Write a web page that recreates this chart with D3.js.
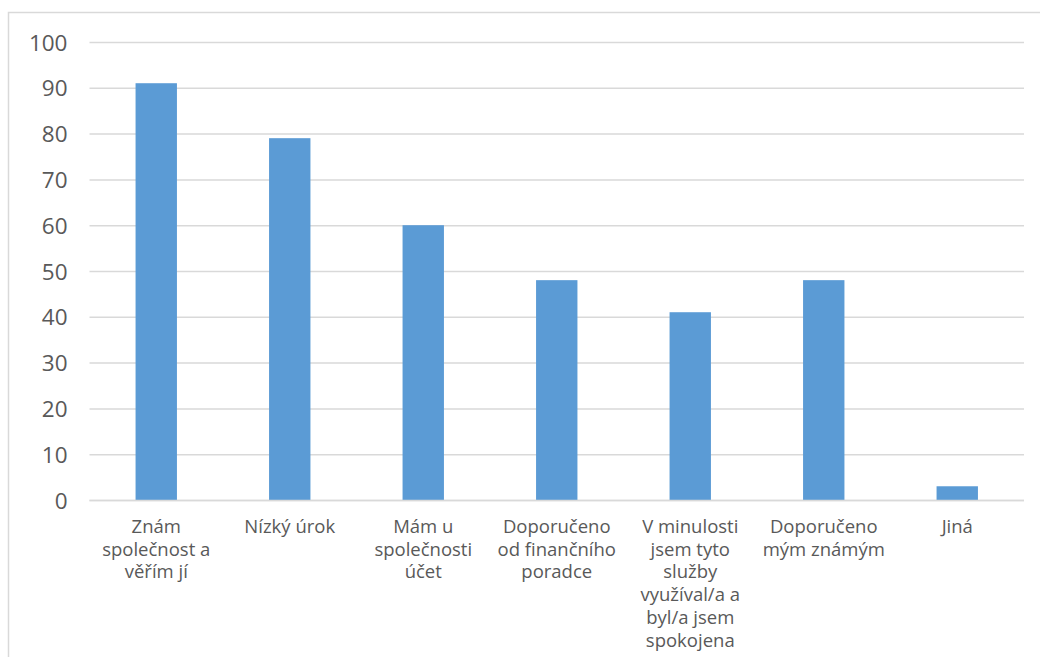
<!DOCTYPE html>
<html>
<head>
<meta charset="utf-8">
<script src="https://cdn.jsdelivr.net/npm/d3@7"></script>
<style>
  html, body { margin: 0; padding: 0; background: #fff; }
  svg { display: block; }
  text { font-family: "Open Sans", "DejaVu Sans", sans-serif; fill: #595959; }
</style>
</head>
<body>
<svg id="chart" width="1040" height="657"></svg>
<script>
// Reasons for choosing the provider (counts)
const categories = [
  "Znám\nspolečnost a\nvěřím jí",
  "Nízký úrok",
  "Mám u\nspolečnosti\núčet",
  "Doporučeno\nod finančního\nporadce",
  "V minulosti\njsem tyto\nslužby\nvyužíval/a a\nbyl/a jsem\nspokojena",
  "Doporučeno\nmým známým",
  "Jiná"
];
const values = [91, 79, 60, 48, 41, 48, 3];
const yTicks = [0, 10, 20, 30, 40, 50, 60, 70, 80, 90, 100];

const svg = d3.select("#chart");
const W = 1040, H = 657;

// Outer frame of the chart area
svg.append("rect")
  .attr("x", 8.5).attr("y", 12.5)
  .attr("width", W).attr("height", H)
  .attr("fill", "none").attr("stroke", "#D9D9D9").attr("stroke-width", 1.5);

const plot = { left: 89.5, right: 1024, top: 42, bottom: 500 };

const x = d3.scaleBand()
  .domain(categories)
  .range([plot.left, plot.right])
  .paddingInner(0.69)
  .paddingOuter(0.345);

const y = d3.scaleLinear()
  .domain([0, 100])
  .range([plot.bottom, plot.top]);

// Horizontal gridlines
const yAxis = d3.axisLeft(y)
  .tickValues(yTicks)
  .tickSize(-(plot.right - plot.left))
  .tickPadding(22);

const gy = svg.append("g")
  .attr("transform", `translate(${plot.left},0)`)
  .call(yAxis);
gy.select(".domain").remove();
gy.selectAll(".tick line").attr("stroke", "#D9D9D9").attr("stroke-width", 1.5);
gy.selectAll(".tick text")
  .attr("font-size", 22.5)
  .attr("dy", "0.36em")
  .attr("fill", "#595959");

// Bars
svg.append("g").selectAll("rect")
  .data(values)
  .join("rect")
  .attr("x", (d, i) => x(categories[i]))
  .attr("width", x.bandwidth())
  .attr("y", d => y(d))
  .attr("height", d => y(0) - y(d))
  .attr("fill", "#5B9BD5");

// Baseline drawn over the bars
svg.append("line")
  .attr("x1", plot.left).attr("x2", plot.right)
  .attr("y1", y(0) + 0.5).attr("y2", y(0) + 0.5)
  .attr("stroke", "#D9D9D9").attr("stroke-width", 1.5);

// Category labels
const xAxis = d3.axisBottom(x).tickSize(0).tickFormat("");
const gx = svg.append("g")
  .attr("transform", `translate(0,${plot.bottom})`)
  .call(xAxis);
gx.select(".domain").remove();
gx.selectAll(".tick").each(function(d) {
  const t = d3.select(this).append("text")
    .attr("text-anchor", "middle")
    .attr("font-size", 18.5)
    .attr("fill", "#595959")
    .attr("y", 33);
  d.split("\n").forEach((line, i) => {
    t.append("tspan").attr("x", 0).attr("dy", i === 0 ? 0 : 22.7).text(line);
  });
});
</script>
</body>
</html>
